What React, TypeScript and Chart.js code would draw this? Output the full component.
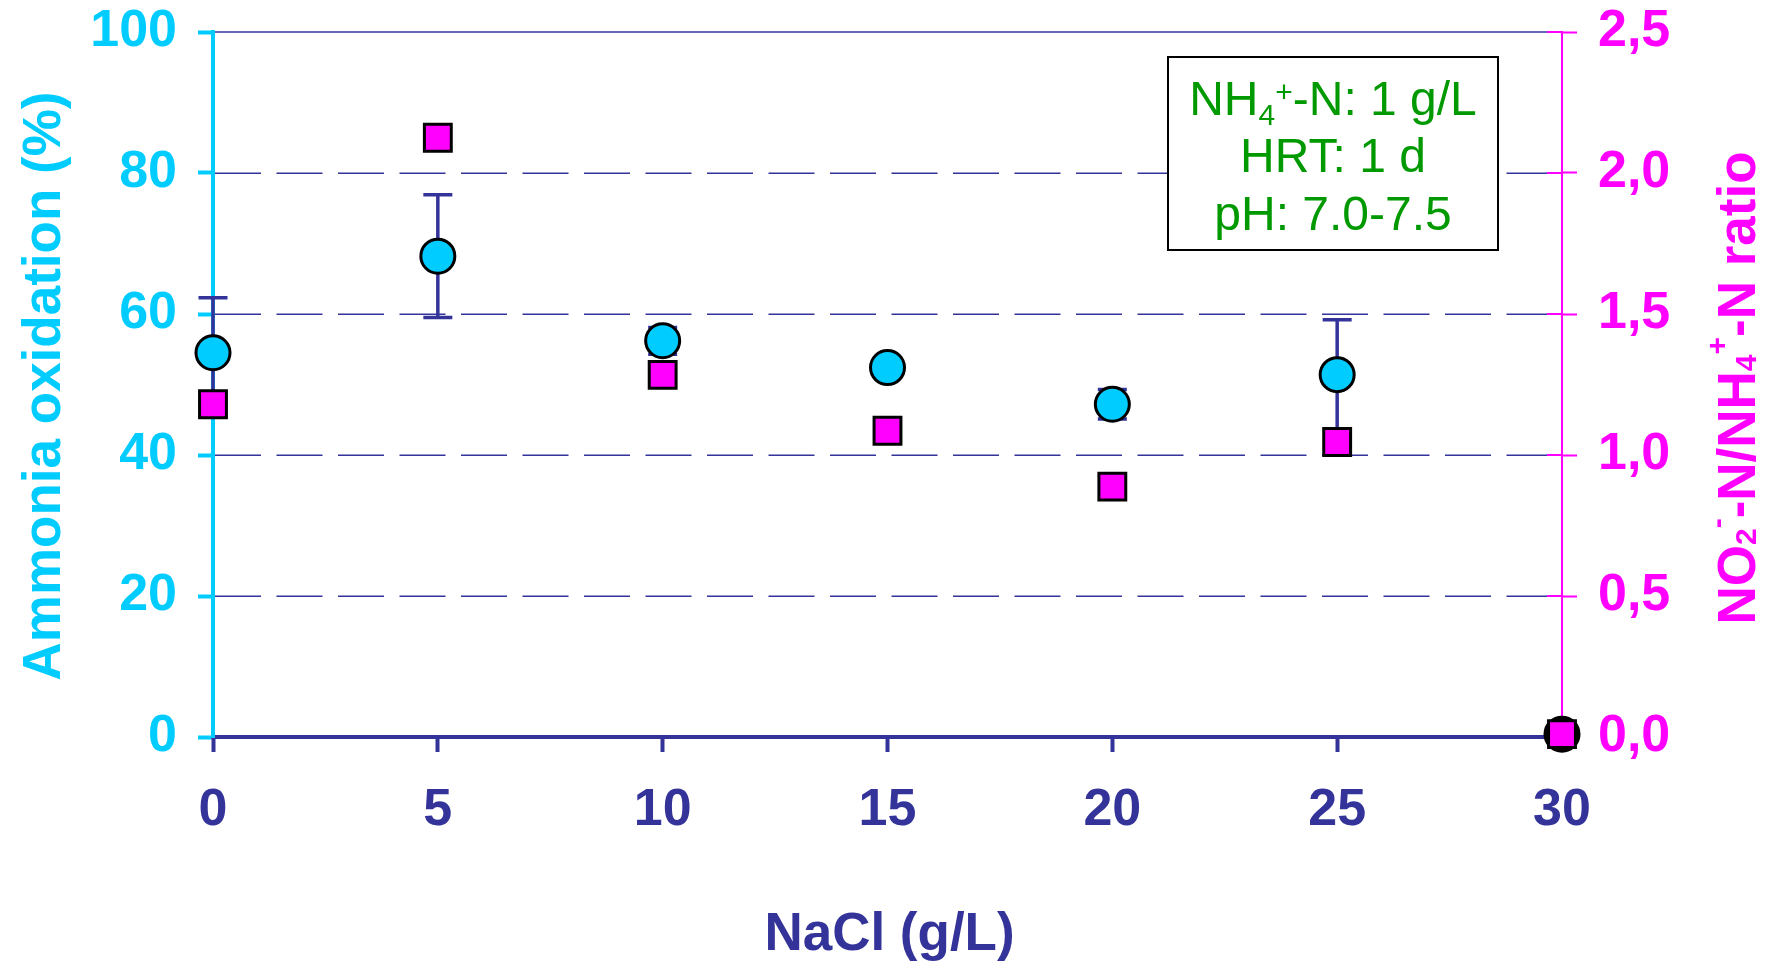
import React, { useEffect, useRef } from 'react';
import { Chart, registerables } from 'chart.js';

Chart.register(...registerables);

// ---- data ----
const nacl = [0, 5, 10, 15, 20, 25, 30];
const oxidation = [54.5, 68.2, 56.2, 52.4, 47.2, 51.4, 0.4];
const oxidationErr = [7.8, 8.7, 1.9, 1.2, 2.1, 7.8, 0];
const ratio = [1.18, 2.125, 1.284, 1.086, 0.888, 1.046, 0.01];

const leftTickLabels = ['0', '20', '40', '60', '80', '100'];
const rightTickLabels = ['0,0', '0,5', '1,0', '1,5', '2,0', '2,5'];
const xTickLabels = ['0', '5', '10', '15', '20', '25', '30'];
const gridValues = [20, 40, 60, 80];

const xTitle = 'NaCl (g/L)';
const leftTitle = 'Ammonia oxidation (%)';
type Seg = { t: string; sub?: boolean; sup?: boolean };
const rightTitle: Seg[] = [
  { t: 'NO' }, { t: '2', sub: true }, { t: '-', sup: true },
  { t: '-N/NH' }, { t: '4', sub: true }, { t: '+', sup: true }, { t: '-N ratio' },
];
const infoLines: Seg[][] = [
  [{ t: 'NH' }, { t: '4', sub: true }, { t: '+', sup: true }, { t: '-N: 1 g/L' }],
  [{ t: 'HRT: 1 d' }],
  [{ t: 'pH: 7.0-7.5' }],
];

// ---- styles ----
const FAM = "'Liberation Sans', Arial, Helvetica, sans-serif";
const CYAN = '#00CCFF';
const MAGENTA = '#FF00FF';
const NAVY = '#333399';
const GREEN = '#009900';

function drawRich(
  ctx: CanvasRenderingContext2D, segs: Seg[], x: number, y: number,
  mainFont: string, smallFont: string, subDy: number, supDy: number,
) {
  let total = 0;
  const widths = segs.map((s) => {
    ctx.font = s.sub || s.sup ? smallFont : mainFont;
    const w = ctx.measureText(s.t).width;
    total += w;
    return w;
  });
  let cx = x - total / 2;
  ctx.textAlign = 'left';
  ctx.textBaseline = 'alphabetic';
  segs.forEach((s, i) => {
    ctx.font = s.sub || s.sup ? smallFont : mainFont;
    const dy = s.sub ? subDy : s.sup ? supDy : 0;
    ctx.fillText(s.t, cx, y + dy);
    cx += widths[i];
  });
}

const decoPlugin = {
  id: 'deco',
  beforeDatasetsDraw(chart: any) {
    const ctx: CanvasRenderingContext2D = chart.ctx;
    const { left, right, top } = chart.chartArea;
    const yS = chart.scales.y;
    const y2S = chart.scales.y2;
    const xS = chart.scales.x;
    ctx.save();
    // dashed gridlines
    ctx.strokeStyle = NAVY;
    ctx.lineWidth = 1.5;
    ctx.setLineDash([46, 15.5]);
    gridValues.forEach((v) => {
      const py = Math.round(yS.getPixelForValue(v)) + 0.25;
      ctx.beginPath();
      ctx.moveTo(left + 2, py);
      ctx.lineTo(right, py);
      ctx.stroke();
    });
    ctx.setLineDash([]);
    // solid top line
    ctx.beginPath();
    ctx.moveTo(left + 2, top);
    ctx.lineTo(right, top);
    ctx.stroke();
    // inner half of right-axis ticks
    ctx.strokeStyle = MAGENTA;
    ctx.lineWidth = 2;
    rightTickLabels.forEach((_, i) => {
      const py = y2S.getPixelForValue(i * 0.5);
      ctx.beginPath();
      ctx.moveTo(right - 15, py);
      ctx.lineTo(right, py);
      ctx.stroke();
    });
    // error bars
    ctx.strokeStyle = NAVY;
    ctx.lineWidth = 3.5;
    ctx.lineCap = 'butt';
    nacl.forEach((xv, i) => {
      const e = oxidationErr[i];
      if (!e) return;
      const px = xS.getPixelForValue(xv);
      const pTop = yS.getPixelForValue(oxidation[i] + e);
      const pBot = yS.getPixelForValue(oxidation[i] - e);
      ctx.beginPath();
      ctx.moveTo(px, pTop);
      ctx.lineTo(px, pBot);
      ctx.moveTo(px - 14.5, pTop);
      ctx.lineTo(px + 14.5, pTop);
      ctx.moveTo(px - 14.5, pBot);
      ctx.lineTo(px + 14.5, pBot);
      ctx.stroke();
    });
    ctx.restore();
  },
  afterDraw(chart: any) {
    const ctx: CanvasRenderingContext2D = chart.ctx;
    const { left, right } = chart.chartArea;
    ctx.save();
    // info box
    ctx.fillStyle = '#FFFFFF';
    ctx.fillRect(1168, 57, 330, 193);
    ctx.strokeStyle = '#000000';
    ctx.lineWidth = 2;
    ctx.strokeRect(1168, 57, 330, 193);
    ctx.fillStyle = GREEN;
    const baselines = [115, 172, 230];
    infoLines.forEach((segs, i) => {
      drawRich(ctx, segs, 1333, baselines[i], `48px ${FAM}`, `30px ${FAM}`, 10, -13);
    });
    // x title
    ctx.fillStyle = NAVY;
    ctx.font = `bold 53px ${FAM}`;
    ctx.textAlign = 'center';
    ctx.textBaseline = 'alphabetic';
    ctx.fillText(xTitle, (left + right) / 2 + 2, 950);
    // left title
    ctx.save();
    ctx.translate(60, 386);
    ctx.rotate(-Math.PI / 2);
    ctx.fillStyle = CYAN;
    ctx.font = `bold 53px ${FAM}`;
    ctx.textAlign = 'center';
    ctx.fillText(leftTitle, 0, 0);
    ctx.restore();
    // right title
    ctx.save();
    ctx.translate(1755, 388);
    ctx.rotate(-Math.PI / 2);
    ctx.fillStyle = MAGENTA;
    drawRich(ctx, rightTitle, 0, 0, `bold 53px ${FAM}`, `bold 30px ${FAM}`, 1, -28);
    ctx.restore();
    ctx.restore();
  },
};

export default function App() {
  const ref = useRef<HTMLCanvasElement | null>(null);
  useEffect(() => {
    document.body.style.margin = '0';
    const canvas = ref.current!;
    const tickFont = { family: FAM, size: 52, weight: 'bold' as const };
    const vFit = (w: number) => (s: any) => {
      s.width = w;
      s.paddingTop = 0;
      s.paddingBottom = 0;
    };
    const chart = new Chart(canvas, {
      type: 'scatter',
      data: {
        datasets: [
          {
            label: 'ratio',
            data: nacl.map((x, i) => ({ x, y: ratio[i] })),
            xAxisID: 'x',
            yAxisID: 'y2',
            showLine: false,
            pointStyle: 'rect',
            pointRadius: 19,
            pointHoverRadius: 19,
            pointBackgroundColor: MAGENTA,
            pointBorderColor: '#000000',
            pointBorderWidth: 3,
            pointHoverBorderWidth: 3,
            clip: false as any,
          },
          {
            label: 'oxidation',
            data: nacl.map((x, i) => ({ x, y: oxidation[i] })),
            xAxisID: 'x',
            yAxisID: 'y',
            showLine: false,
            pointStyle: 'circle',
            pointRadius: 17,
            pointHoverRadius: 17,
            pointBackgroundColor: (c: any) => (c.raw && c.raw.x === 30 ? '#000000' : CYAN),
            pointBorderColor: '#000000',
            pointBorderWidth: 3,
            pointHoverBorderWidth: 3,
            clip: false as any,
          },
        ],
      },
      options: {
        responsive: false,
        animation: false,
        devicePixelRatio: 1,
        events: [],
        layout: { padding: { top: 32, left: 0, right: 0, bottom: 0 } },
        plugins: { legend: { display: false }, tooltip: { enabled: false } },
        scales: {
          x: {
            type: 'linear',
            position: 'bottom',
            min: 0,
            max: 30,
            ticks: {
              stepSize: 5,
              color: NAVY,
              font: tickFont,
              padding: 27,
              maxRotation: 0,
              autoSkip: false,
              callback: (v: any) => xTickLabels[Math.round(Number(v) / 5)],
            },
            grid: { drawOnChartArea: false, drawTicks: true, tickLength: 15, tickColor: NAVY, tickWidth: 4 },
            border: { display: true, color: NAVY, width: 4 },
            afterFit: (s: any) => {
              s.height = 226;
              s.paddingLeft = 0;
              s.paddingRight = 0;
            },
          },
          y: {
            type: 'linear',
            position: 'left',
            min: 0,
            max: 100,
            ticks: {
              stepSize: 20,
              color: CYAN,
              font: tickFont,
              padding: 21,
              callback: (v: any) => leftTickLabels[Math.round(Number(v) / 20)],
            },
            grid: { drawOnChartArea: false, drawTicks: true, tickLength: 15, tickColor: CYAN, tickWidth: 4 },
            border: { display: true, color: CYAN, width: 4 },
            afterFit: vFit(213),
          },
          y2: {
            type: 'linear',
            position: 'right',
            min: 0,
            max: 2.5,
            ticks: {
              stepSize: 0.5,
              color: MAGENTA,
              font: tickFont,
              padding: 21,
              callback: (v: any) => rightTickLabels[Math.round(Number(v) / 0.5)],
            },
            grid: { drawOnChartArea: false, drawTicks: true, tickLength: 15, tickColor: MAGENTA, tickWidth: 2 },
            border: { display: true, color: MAGENTA, width: 2 },
            afterFit: vFit(205),
          },
        },
      } as any,
      plugins: [decoPlugin],
    });
    return () => chart.destroy();
  }, []);
  return (
    <canvas
      ref={ref}
      width={1767}
      height={963}
      style={{ display: 'block', width: '1767px', height: '963px' }}
    />
  );
}
